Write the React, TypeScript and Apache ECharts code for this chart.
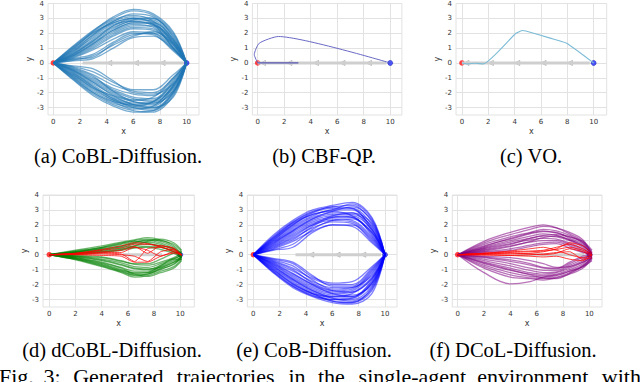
import React, { useEffect, useRef } from "react";
import * as echarts from "echarts";

// ---------- data ----------
const X_TICKS = [0, 2, 4, 6, 8, 10];
const Y_TICKS = [-3, -2, -1, 0, 1, 2, 3, 4];

// (a) CoBL-Diffusion
const A_X = [0, 1.5, 3, 4.5, 6, 7.5, 9, 10];
const A_UP = [
  [0, 1.15, 2.2, 3.0, 3.5, 3.2, 2.0, 0],
  [0, 1.0, 2.0, 2.8, 3.3, 3.1, 1.8, 0],
  [0, 0.9, 1.9, 2.7, 3.0, 2.9, 1.6, 0],
  [0, 0.8, 1.7, 2.5, 2.9, 2.8, 1.5, 0],
  [0, 0.7, 1.6, 2.4, 2.8, 2.6, 1.3, 0],
  [0, 0.75, 1.8, 2.6, 2.8, 2.5, 1.2, 0],
  [0, 0.6, 1.4, 2.2, 2.7, 2.7, 1.6, 0],
  [0, 0.55, 1.3, 2.1, 2.6, 2.4, 1.1, 0],
  [0, 0.5, 1.2, 2.0, 2.5, 2.5, 1.4, 0],
  [0, 0.45, 1.1, 1.9, 2.4, 2.3, 1.0, 0],
  [0, 0.4, 1.0, 1.8, 2.3, 2.2, 1.2, 0],
  [0, 0.35, 0.9, 1.6, 2.1, 2.0, 0.9, 0],
  [0, 0.3, 0.6, 1.4, 2.0, 1.9, 0.8, 0],
  [0, 0.25, 0.4, 1.3, 1.9, 2.0, 1.0, 0],
  [0, 0.95, 2.1, 2.9, 3.2, 2.8, 1.4, 0],
  [0, 0.85, 1.9, 2.8, 3.1, 3.0, 1.9, 0],
  [0, 0.65, 1.5, 2.3, 2.9, 3.0, 1.7, 0],
  [0, 1.05, 2.05, 2.7, 3.0, 2.7, 1.3, 0],
  [0, 0.6, 1.5, 2.5, 3.0, 2.6, 1.0, 0],
  [0, 0.5, 1.3, 2.2, 2.7, 2.6, 1.5, 0],
  [0, 0.15, 0.3, 1.0, 1.7, 1.8, 0.9, 0],
  [0, 1.1, 2.15, 3.1, 3.6, 3.3, 2.1, 0],
  [0, 0.2, 0.5, 1.2, 1.8, 2.1, 1.3, 0],
];
const A_LO = [
  [0, -1.1, -2.1, -2.8, -3.2, -3.3, -2.2, 0],
  [0, -1.0, -2.0, -2.7, -3.0, -3.1, -2.0, 0],
  [0, -0.9, -1.8, -2.5, -2.9, -3.0, -1.9, 0],
  [0, -0.8, -1.6, -2.4, -2.8, -2.9, -1.6, 0],
  [0, -0.7, -1.5, -2.3, -2.7, -2.7, -1.5, 0],
  [0, -0.6, -1.4, -2.1, -2.6, -2.8, -1.8, 0],
  [0, -0.55, -1.3, -2.0, -2.5, -2.5, -1.3, 0],
  [0, -0.5, -1.2, -1.9, -2.4, -2.6, -1.7, 0],
  [0, -0.45, -1.1, -1.8, -2.3, -2.4, -1.2, 0],
  [0, -0.4, -1.0, -1.7, -2.1, -2.2, -1.1, 0],
  [0, -0.3, -0.8, -1.5, -1.9, -2.0, -1.0, 0],
  [0, -0.25, -0.6, -1.3, -1.8, -1.8, -0.8, 0],
  [0, -0.95, -1.9, -2.6, -3.1, -2.9, -1.5, 0],
  [0, -0.85, -1.7, -2.5, -3.0, -3.2, -2.1, 0],
  [0, -0.65, -1.6, -2.4, -2.9, -2.6, -1.4, 0],
  [0, -0.75, -1.7, -2.2, -2.6, -2.7, -1.9, 0],
  [0, -0.35, -0.9, -1.9, -2.5, -2.3, -1.0, 0],
  [0, -0.2, -0.4, -1.2, -2.0, -2.1, -1.4, 0],
  [0, -1.05, -2.0, -2.6, -2.8, -2.6, -1.6, 0],
  [0, -0.5, -1.3, -2.2, -2.8, -3.0, -2.3, 0],
  [0, -1.15, -2.2, -2.9, -3.3, -3.2, -2.0, 0],
];
const A_OBS_X = [2.2, 9.8];
const A_OBS_MARKS = [4.2, 6.2, 8.2];

// (b) CBF-QP
const B_PATH_X = [0, -0.26, 0.12, 1.56, 10];
const B_PATH_Y = [0, 0.56, 1.33, 1.78, 0];
const B_PLAN_X = [0, 3.07];
const B_PLAN_Y = [0, 0];
const B_OBS_X = [0, 9.7];
const B_OBS_MARKS = [0.4, 2.4, 4.4, 6.4, 8.4];

// (c) VO
const C_PATH_X = [0, 0.5, 1.0, 1.63, 4.1, 4.6, 4.85, 6.7, 7.95, 10];
const C_PATH_Y = [0, -0.06, -0.02, -0.06, 2.0, 2.18, 2.15, 1.67, 1.33, 0];
const C_OBS_X = [0, 9.7];
const C_OBS_MARKS = [0.35, 2.2, 4.2, 6.2, 8.2];

// (d) dCoBL-Diffusion
const D_X = [0, 2, 4, 5.5, 6.5, 7.5, 8.5, 9.5, 10.1];
const D_GREEN = [
  [0, 0.3, 0.6, 0.85, 1.0, 1.15, 1.0, 0.6, 0],
  [0, 0.25, 0.5, 0.75, 0.95, 1.05, 0.9, 0.5, -0.1],
  [0, 0.2, 0.45, 0.7, 0.85, 0.95, 0.8, 0.4, 0],
  [0, 0.15, 0.4, 0.6, 0.75, 0.85, 0.7, 0.3, -0.2],
  [0, 0.12, 0.3, 0.5, 0.6, 0.7, 0.6, 0.4, 0.1],
  [0, 0.1, 0.25, 0.4, 0.5, 0.55, 0.5, 0.2, -0.1],
  [0, 0.2, 0.35, 0.55, 0.8, 1.0, 0.95, 0.7, 0.2],
  [0, 0.05, 0.15, 0.3, 0.45, 0.5, 0.35, 0.1, -0.2],
  [0, 0.18, 0.5, 0.8, 0.9, 0.8, 0.55, 0.2, -0.1],
  [0, 0.1, 0.2, 0.35, 0.6, 0.9, 1.05, 0.8, 0.3],
  [0, -0.35, -0.8, -1.2, -1.5, -1.4, -1.1, -0.8, -0.3],
  [0, -0.3, -0.7, -1.1, -1.35, -1.3, -1.0, -0.6, -0.2],
  [0, -0.25, -0.6, -1.0, -1.2, -1.2, -0.9, -0.5, -0.1],
  [0, -0.2, -0.5, -0.85, -1.1, -1.1, -0.8, -0.4, -0.2],
  [0, -0.15, -0.4, -0.7, -0.95, -1.0, -0.7, -0.3, 0],
  [0, -0.1, -0.3, -0.55, -0.8, -0.85, -0.6, -0.25, -0.1],
  [0, -0.08, -0.2, -0.45, -0.65, -0.7, -0.5, -0.2, 0.1],
  [0, -0.25, -0.65, -1.05, -1.3, -1.45, -1.2, -0.9, -0.4],
  [0, -0.05, -0.15, -0.4, -0.6, -0.6, -0.3, 0.1, 0.2],
  [0, -0.2, -0.55, -0.9, -1.25, -1.2, -0.75, -0.3, -0.3],
  [0, -0.3, -0.75, -1.15, -1.4, -1.3, -0.95, -0.65, -0.15],
  [0, -0.12, -0.35, -0.65, -0.9, -0.95, -0.85, -0.5, -0.3],
];
const D_RED = [
  [0, 0.1, 0.35, 0.6, 0.8, 0.75, 0.5, 0.3, 0],
  [0, 0.05, 0.15, 0.15, 0.5, 0.3, -0.1, 0.2, 0],
  [0, 0.03, 0.1, 0.05, -0.45, 0.4, 0.5, 0.2, 0],
  [0, 0.08, 0.2, 0.3, 0.55, 0.1, 0.6, 0.4, -0.1],
  [0, 0.02, 0.05, 0.0, -0.1, -0.45, 0.2, 0.35, 0],
  [0, 0.1, 0.3, 0.45, 0.7, 0.7, 0.6, 0.45, 0],
  [0, 0.0, -0.05, -0.1, -0.5, -0.5, -0.1, 0.1, 0],
];
const D_OBS_X = [5.6, 8.6];

// (e) CoB-Diffusion
const E_X = [0, 1.5, 3, 4.5, 6, 7.5, 9, 10];
const E_UP = [
  [0, 1.3, 2.3, 3.0, 3.3, 3.5, 2.5, 0],
  [0, 1.2, 2.2, 2.9, 3.2, 3.3, 2.2, 0],
  [0, 1.1, 2.0, 2.8, 3.1, 3.1, 2.0, 0],
  [0, 1.0, 1.9, 2.6, 3.0, 3.0, 1.8, 0],
  [0, 0.9, 1.8, 2.5, 2.8, 2.8, 1.6, 0],
  [0, 0.85, 1.7, 2.4, 2.7, 2.7, 1.9, 0],
  [0, 0.8, 1.6, 2.3, 2.6, 2.5, 1.4, 0],
  [0, 0.7, 1.5, 2.2, 2.5, 2.5, 1.3, 0],
  [0, 0.65, 1.4, 2.1, 2.4, 2.3, 1.2, 0],
  [0, 0.6, 1.3, 2.0, 2.3, 2.2, 1.1, 0],
  [0, 0.5, 1.1, 1.8, 2.2, 2.1, 1.0, 0],
  [0, 0.4, 0.9, 1.6, 2.0, 1.9, 0.8, 0],
  [0, 0.3, 0.5, 1.5, 2.0, 2.0, 0.9, 0],
  [0, 0.95, 2.0, 2.7, 3.0, 3.4, 2.4, 0],
  [0, 0.75, 1.6, 2.4, 2.9, 3.2, 2.3, 0],
  [0, 1.05, 2.1, 2.7, 2.9, 2.6, 1.5, 0],
  [0, 0.55, 1.2, 2.0, 2.6, 2.8, 2.1, 0],
  [0, 0.45, 1.0, 1.9, 2.5, 2.6, 1.7, 0],
  [0, 1.15, 2.15, 2.85, 3.2, 3.1, 1.7, 0],
  [0, 0.35, 0.7, 1.7, 2.3, 2.4, 1.5, 0],
];
const E_LO = [
  [0, -1.2, -2.2, -2.8, -3.2, -3.3, -2.6, 0],
  [0, -1.1, -2.1, -2.7, -3.1, -3.2, -2.4, 0],
  [0, -1.0, -1.9, -2.6, -3.0, -3.0, -2.1, 0],
  [0, -0.9, -1.8, -2.5, -2.9, -2.9, -1.9, 0],
  [0, -0.85, -1.7, -2.4, -2.8, -2.8, -1.7, 0],
  [0, -0.8, -1.6, -2.3, -2.7, -2.7, -2.0, 0],
  [0, -0.7, -1.5, -2.2, -2.6, -2.5, -1.5, 0],
  [0, -0.65, -1.4, -2.1, -2.5, -2.4, -1.3, 0],
  [0, -0.6, -1.3, -2.0, -2.4, -2.3, -1.2, 0],
  [0, -0.5, -1.1, -1.8, -2.2, -2.2, -1.1, 0],
  [0, -0.4, -0.9, -1.6, -2.0, -2.0, -0.9, 0],
  [0, -0.3, -0.6, -1.5, -1.9, -1.8, -0.8, 0],
  [0, -0.95, -1.95, -2.6, -3.1, -3.2, -2.2, 0],
  [0, -0.75, -1.65, -2.4, -2.9, -3.1, -2.3, 0],
  [0, -1.05, -2.0, -2.6, -2.8, -2.6, -1.6, 0],
  [0, -0.55, -1.25, -2.0, -2.6, -2.8, -1.9, 0],
  [0, -0.45, -1.0, -1.9, -2.4, -2.5, -1.6, 0],
  [0, -1.15, -2.1, -2.75, -3.0, -2.9, -1.8, 0],
  [0, -0.35, -0.75, -1.7, -2.3, -2.2, -1.4, 0],
  [0, -0.25, -0.5, -1.4, -2.1, -2.1, -1.0, 0],
];
const E_OBS_X = [3.2, 9.7];
const E_OBS_MARKS = [4.4, 6.4, 8.35];

// (f) DCoL-Diffusion
const F_X = [0, 2, 4, 5.5, 6.5, 7.5, 8.5, 9.5, 10.2];
const F_PURPLE = [
  [0, 0.9, 1.5, 1.85, 2.0, 1.8, 1.4, 0.9, 0.1],
  [0, 0.8, 1.35, 1.7, 1.9, 1.8, 1.5, 1.0, 0],
  [0, 0.7, 1.2, 1.5, 1.7, 1.6, 1.3, 0.8, -0.1],
  [0, 0.6, 1.05, 1.4, 1.55, 1.5, 1.1, 0.7, 0],
  [0, 0.5, 0.95, 1.25, 1.4, 1.3, 1.0, 0.6, 0.1],
  [0, 0.45, 0.85, 1.1, 1.25, 1.2, 0.95, 0.5, -0.1],
  [0, 0.4, 0.75, 1.0, 1.1, 1.05, 0.8, 0.4, 0],
  [0, 0.3, 0.6, 0.85, 0.95, 0.95, 0.7, 0.3, -0.2],
  [0, 0.2, 0.4, 0.65, 0.8, 0.85, 0.6, 0.2, 0],
  [0, 0.15, 0.3, 0.55, 0.7, 0.75, 0.45, 0.15, 0.1],
  [0, 0.55, 1.1, 1.45, 1.6, 1.45, 1.2, 0.8, 0.2],
  [0, 0.35, 0.7, 1.1, 1.3, 1.35, 1.2, 0.9, 0.3],
  [0, 0.25, 0.55, 0.9, 1.15, 1.25, 1.0, 0.6, 0],
  [0, -0.9, -1.5, -1.6, -1.7, -1.55, -1.3, -0.9, -0.3],
  [0, -0.8, -1.35, -1.55, -1.6, -1.5, -1.2, -0.8, -0.4],
  [0, -0.7, -1.2, -1.45, -1.5, -1.4, -1.1, -0.7, -0.2],
  [0, -0.6, -1.05, -1.3, -1.4, -1.3, -1.0, -0.6, 0],
  [0, -0.5, -0.9, -1.2, -1.3, -1.2, -0.9, -0.5, -0.1],
  [0, -0.4, -0.75, -1.05, -1.2, -1.15, -0.8, -0.4, 0.1],
  [0, -0.3, -0.6, -0.9, -1.05, -1.05, -0.7, -0.3, 0],
  [0, -0.2, -0.45, -0.7, -0.9, -0.95, -0.6, -0.2, -0.1],
  [0, -0.15, -0.35, -0.6, -0.85, -0.9, -0.5, -0.1, 0],
  [0, -1.2, -1.95, -1.8, -1.5, -1.35, -1.1, -0.8, -0.2],
  [0, -0.55, -1.0, -1.35, -1.55, -1.6, -1.25, -0.75, -0.15],
  [0, -0.1, -0.2, -0.4, -0.6, -0.85, -0.8, -0.5, -0.2],
];
const F_RED = [
  [0, 0.1, 0.2, 0.25, 0.3, 0.5, 0.7, 0.4, 0],
  [0, 0.05, 0.1, 0.05, 0.0, 0.1, 0.4, 0.2, -0.1],
  [0, 0.0, -0.05, -0.1, -0.15, -0.1, -0.3, -0.4, 0],
  [0, 0.08, 0.15, 0.2, 0.25, 0.35, 0.5, 0.3, 0],
  [0, 0.05, 0.05, 0.1, 0.2, 0.4, 0.8, 0.6, 0.1],
  [0, -0.02, -0.05, 0.0, 0.05, 0.15, 0.2, -0.3, -0.2],
  [0, 0.1, 0.25, 0.4, 0.5, 0.3, 0.0, -0.2, 0],
];
const F_OBS_X = [4.5, 9.6];

const CAPTIONS = [
  "(a) CoBL-Diffusion.",
  "(b) CBF-QP.",
  "(c) VO.",
  "(d) dCoBL-Diffusion.",
  "(e) CoB-Diffusion.",
  "(f) DCoL-Diffusion.",
];
const FIG_WORDS = ["Fig.", "3:", "Generated", "trajectories", "in", "the", "single-agent", "environment", "with"];

// ---------- layout ----------
const PANELS = [
  { left: 48, top: 3, width: 151, height: 112, xmin: -0.4, xmax: 10.93, cx: 118, cy: 156 },
  { left: 252.4, top: 3, width: 149.5, height: 112, xmin: -0.4, xmax: 10.88, cx: 324, cy: 156 },
  { left: 456, top: 3, width: 150.7, height: 112, xmin: -0.45, xmax: 10.99, cx: 531, cy: 156 },
  { left: 43, top: 195, width: 151.3, height: 112, xmin: -0.48, xmax: 11.07, cx: 112, cy: 350 },
  { left: 247.3, top: 195, width: 149.7, height: 112, xmin: -0.46, xmax: 10.91, cx: 314, cy: 350 },
  { left: 452.3, top: 195, width: 149.7, height: 112, xmin: -0.41, xmax: 10.96, cx: 513, cy: 350 },
];
const FIG_WORD_X = [-1, 43.6, 73.2, 176.8, 288.4, 318, 358.6, 477.2, 601.8];

const zip = (xs: number[], ys: number[]) => xs.map((x, i) => [x, ys[i]]);

function trajSeries(p: number, xs: number[], ys: number[], color: string, opacity: number, width: number, smooth: number | boolean = 0.35) {
  return {
    type: "line",
    xAxisIndex: p,
    yAxisIndex: p,
    data: zip(xs, ys),
    symbol: "none",
    smooth,
    silent: true,
    lineStyle: { color, opacity, width },
  };
}

function obsSeries(p: number, xs: number[], marks: number[]) {
  const out: any[] = [
    {
      type: "line",
      xAxisIndex: p,
      yAxisIndex: p,
      data: xs.map((x) => [x, 0]),
      symbol: "none",
      silent: true,
      lineStyle: { color: "#cfcfcf", width: 3 },
    },
  ];
  if (marks.length) {
    out.push({
      type: "scatter",
      xAxisIndex: p,
      yAxisIndex: p,
      data: marks.map((x) => [x, 0]),
      symbol: "triangle",
      symbolRotate: 90,
      symbolSize: 5,
      silent: true,
      itemStyle: { color: "#f2f2f2", borderColor: "#9a9a9a", borderWidth: 0.8 },
    });
  }
  return out;
}

function endpoints(p: number) {
  return [
    {
      type: "scatter",
      xAxisIndex: p,
      yAxisIndex: p,
      data: [[0, 0]],
      symbolSize: 5.5,
      silent: true,
      itemStyle: { color: "#ff2020", opacity: 0.85 },
    },
    {
      type: "scatter",
      xAxisIndex: p,
      yAxisIndex: p,
      data: [[10, 0]],
      symbolSize: 5,
      silent: true,
      itemStyle: { color: "#2030ff", borderColor: "#1010a0", borderWidth: 0.6 },
    },
  ];
}

export default function App() {
  const ref = useRef<HTMLDivElement>(null);
  useEffect(() => {
    document.body.style.margin = "0";
    if (!ref.current) return;
    const chart = echarts.init(ref.current, null, { renderer: "svg" });

    const grids = PANELS.map((g) => ({
      left: g.left,
      top: g.top,
      width: g.width,
      height: g.height,
      show: true,
      borderColor: "#e2e2e2",
      borderWidth: 1,
      backgroundColor: "transparent",
    }));
    const xAxes = PANELS.map((g, i) => ({
      gridIndex: i,
      type: "value",
      min: g.xmin,
      max: g.xmax,
      name: "x",
      nameLocation: "middle",
      nameGap: 12,
      nameTextStyle: { fontSize: 8, color: "#333", fontFamily: "DejaVu Sans" },
      axisLine: { show: false },
      axisTick: { show: false, customValues: X_TICKS },
      axisLabel: { fontSize: 7, color: "#333", margin: 3, customValues: X_TICKS, fontFamily: "DejaVu Sans" },
      splitLine: { show: true, lineStyle: { color: "#e2e2e2", width: 1 } },
    }));
    const yAxes = PANELS.map((g, i) => ({
      gridIndex: i,
      type: "value",
      min: -3.5,
      max: 4,
      name: "y",
      nameLocation: "middle",
      nameGap: 14,
      nameRotate: 90,
      nameTextStyle: { fontSize: 8, color: "#333", fontFamily: "DejaVu Sans" },
      axisLine: { show: false },
      axisTick: { show: false, customValues: Y_TICKS },
      axisLabel: { fontSize: 7, color: "#333", margin: 4, customValues: Y_TICKS, fontFamily: "DejaVu Sans" },
      splitLine: { show: true, lineStyle: { color: "#e2e2e2", width: 1 } },
    }));

    const series: any[] = [];
    // (a)
    A_UP.concat(A_LO).forEach((ys) => series.push(trajSeries(0, A_X, ys, "#1f77b4", 0.6, 1.3)));
    series.push(...obsSeries(0, A_OBS_X, A_OBS_MARKS));
    series.push(...endpoints(0));
    // (b)
    series.push(...obsSeries(1, B_OBS_X, B_OBS_MARKS));
    series.push(trajSeries(1, B_PLAN_X, B_PLAN_Y, "#4a4ab0", 0.9, 1.2, false));
    series.push(trajSeries(1, B_PATH_X, B_PATH_Y, "#5a5abf", 0.9, 1, 0.2));
    series.push(...endpoints(1));
    // (c)
    series.push(...obsSeries(2, C_OBS_X, C_OBS_MARKS));
    series.push(trajSeries(2, C_PATH_X, C_PATH_Y, "#7dbcd6", 1, 1.1, 0.15));
    series.push(...endpoints(2));
    // (d)
    series.push(...obsSeries(3, D_OBS_X, []));
    D_GREEN.forEach((ys) => series.push(trajSeries(3, D_X, ys, "#008000", 0.55, 1.3)));
    D_RED.forEach((ys) => series.push(trajSeries(3, D_X, ys, "#ff0000", 0.75, 1, 0.2)));
    series.push(...endpoints(3));
    // (e)
    E_UP.concat(E_LO).forEach((ys) => series.push(trajSeries(4, E_X, ys, "#0000ff", 0.5, 1.3)));
    series.push(...obsSeries(4, E_OBS_X, E_OBS_MARKS));
    series.push(...endpoints(4));
    // (f)
    series.push(...obsSeries(5, F_OBS_X, []));
    F_PURPLE.forEach((ys) => series.push(trajSeries(5, F_X, ys, "#800080", 0.55, 1.3)));
    F_RED.forEach((ys) => series.push(trajSeries(5, F_X, ys, "#ff0000", 0.75, 1, 0.2)));
    series.push(...endpoints(5));

    const graphics: any[] = PANELS.map((g, i) => ({
      type: "text",
      x: g.cx,
      y: g.cy,
      style: {
        text: CAPTIONS[i],
        fill: "#000",
        fontSize: 20.5,
        fontFamily: "Liberation Serif",
        align: "center",
        verticalAlign: "middle",
      },
    }));
    FIG_WORDS.forEach((w, i) => {
      graphics.push({
        type: "text",
        x: FIG_WORD_X[i],
        y: 365,
        style: {
          text: w,
          fill: "#000",
          fontSize: 22,
          fontFamily: "Liberation Serif",
          align: "left",
          verticalAlign: "top",
        },
      });
    });

    chart.setOption({
      animation: false,
      backgroundColor: "#ffffff",
      grid: grids,
      xAxis: xAxes,
      yAxis: yAxes,
      series,
      graphic: graphics,
    });
    return () => chart.dispose();
  }, []);
  return <div ref={ref} style={{ width: 640, height: 382 }} />;
}
